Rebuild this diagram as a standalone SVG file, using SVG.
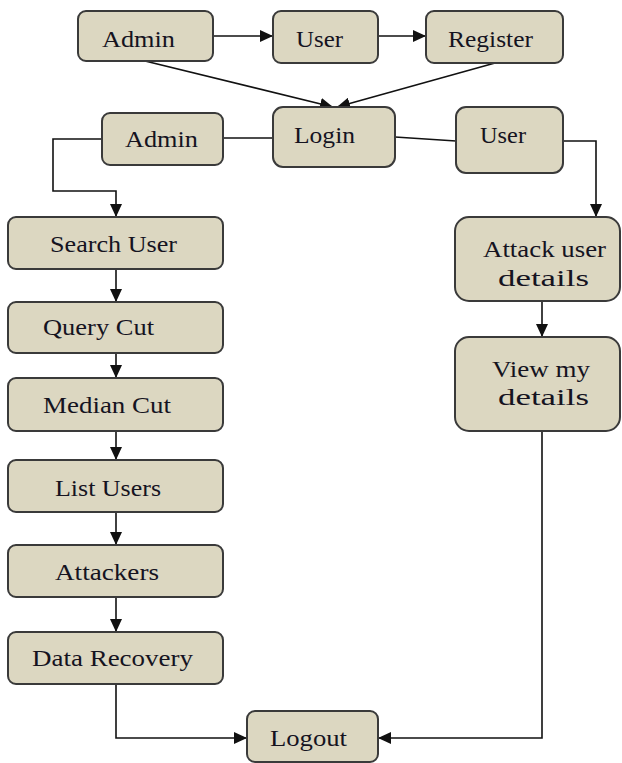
<svg xmlns="http://www.w3.org/2000/svg" width="622" height="763" viewBox="0 0 622 763">
<style>
.box{fill:#DCD7C1;stroke:#3a3a3a;stroke-width:2}
.t{font-family:"Liberation Serif","Times New Roman",serif;font-size:23px;fill:#15131f}
.c{fill:none;stroke:#111;stroke-width:1.6}
.a{marker-end:url(#arr)}
</style>
<defs>
<marker id="arr" markerUnits="userSpaceOnUse" markerWidth="14" markerHeight="12" refX="13" refY="6" orient="auto">
<path d="M0,0 L13,6 L0,12 Z" fill="#111"/>
</marker>
</defs>
<rect width="622" height="763" fill="#fff"/>
<g id="connectors">
<path class="c a" d="M213,36 H273"/>
<path class="c a" d="M378,36 H426"/>
<path class="c a" d="M145,61 L333,107"/>
<path class="c a" d="M495,63 L337,107"/>
<path class="c" d="M223,138 H273"/>
<path class="c" d="M395,137 L456,141"/>
<path class="c a" d="M102,139 H53 V191 H116 V217"/>
<path class="c a" d="M563,141 H596 V217"/>
<path class="c a" d="M116,269 V302"/>
<path class="c a" d="M116,353 V378"/>
<path class="c a" d="M116,431 V460"/>
<path class="c a" d="M116,512 V545"/>
<path class="c a" d="M116,597 V632"/>
<path class="c a" d="M116,684 V738 H247"/>
<path class="c a" d="M542,301 V337"/>
<path class="c a" d="M542,431 V738 H378"/>
</g>
<g id="admin_top"><rect class="box" x="78" y="11" width="135" height="50" rx="8"/><text class="t" x="102" y="47" textLength="73" lengthAdjust="spacingAndGlyphs">Admin</text></g>
<g id="user_top"><rect class="box" x="273" y="11" width="105" height="52" rx="8"/><text class="t" x="296" y="47" textLength="47" lengthAdjust="spacingAndGlyphs">User</text></g>
<g id="register"><rect class="box" x="426" y="11" width="137" height="52" rx="8"/><text class="t" x="448" y="47" textLength="85" lengthAdjust="spacingAndGlyphs">Register</text></g>
<g id="login"><rect class="box" x="273" y="107" width="122" height="60" rx="10"/><text class="t" x="294" y="143" textLength="61" lengthAdjust="spacingAndGlyphs">Login</text></g>
<g id="admin_left"><rect class="box" x="102" y="113" width="121" height="52" rx="8"/><text class="t" x="125" y="147" textLength="73" lengthAdjust="spacingAndGlyphs">Admin</text></g>
<g id="user_right"><rect class="box" x="456" y="107" width="107" height="66" rx="10"/><text class="t" x="480" y="143" textLength="46" lengthAdjust="spacingAndGlyphs">User</text></g>
<g id="search_user"><rect class="box" x="8" y="217" width="215" height="52" rx="8"/><text class="t" x="50" y="252" textLength="127" lengthAdjust="spacingAndGlyphs">Search User</text></g>
<g id="query_cut"><rect class="box" x="8" y="302" width="215" height="51" rx="8"/><text class="t" x="43" y="335" textLength="111" lengthAdjust="spacingAndGlyphs">Query Cut</text></g>
<g id="median_cut"><rect class="box" x="8" y="378" width="215" height="53" rx="8"/><text class="t" x="43" y="413" textLength="128" lengthAdjust="spacingAndGlyphs">Median Cut</text></g>
<g id="list_users"><rect class="box" x="8" y="460" width="215" height="52" rx="8"/><text class="t" x="55" y="496" textLength="106" lengthAdjust="spacingAndGlyphs">List  Users</text></g>
<g id="attackers"><rect class="box" x="8" y="545" width="215" height="52" rx="8"/><text class="t" x="55" y="580" textLength="104" lengthAdjust="spacingAndGlyphs">Attackers</text></g>
<g id="data_recovery"><rect class="box" x="8" y="632" width="215" height="52" rx="8"/><text class="t" x="32" y="666" textLength="161" lengthAdjust="spacingAndGlyphs">Data Recovery</text></g>
<g id="logout"><rect class="box" x="247" y="711" width="131" height="51" rx="8"/><text class="t" x="270" y="746" textLength="77" lengthAdjust="spacingAndGlyphs">Logout</text></g>
<g id="attack_user_details"><rect class="box" x="455" y="217" width="165" height="84" rx="14"/><text class="t" x="483" y="257" textLength="123" lengthAdjust="spacingAndGlyphs">Attack user</text><text class="t" x="498" y="286" textLength="91" lengthAdjust="spacingAndGlyphs">details</text></g>
<g id="view_my_details"><rect class="box" x="455" y="337" width="165" height="94" rx="14"/><text class="t" x="492" y="377" textLength="98" lengthAdjust="spacingAndGlyphs">View my</text><text class="t" x="498" y="405" textLength="91" lengthAdjust="spacingAndGlyphs">details</text></g>
</svg>
